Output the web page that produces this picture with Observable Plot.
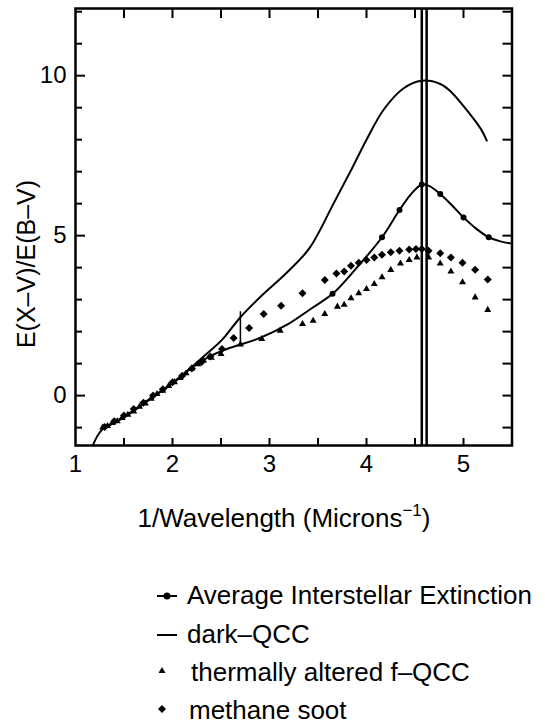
<!DOCTYPE html>
<html><head><meta charset="utf-8">
<script src="https://cdn.jsdelivr.net/npm/d3@7"></script>
<script src="https://cdn.jsdelivr.net/npm/@observablehq/plot@0.6"></script>
<style>
body{margin:0;background:#fff;color:#000;}
#wrap{position:relative;width:545px;height:726px;font-family:"Liberation Sans",Arial,sans-serif;}
#plot{position:absolute;left:0;top:0;width:545px;}
#plot svg{font-family:"Liberation Sans",Arial,sans-serif;}
#lower{position:absolute;left:0;top:480px;}
#ylabel{position:absolute;left:26px;top:264px;transform:translate(-50%,-50%) rotate(-90deg);white-space:nowrap;font-size:25px;line-height:25px;color:#000;}
</style></head><body><div id="wrap"><div id="plot"></div><div id="ylabel"></div><div id="lower"></div></div>
<script>
// ---- data (1/wavelength, E(X-V)/E(B-V)) ----
const avgExtinction = [[1.27,-1.05],[1.5,-0.68],[1.72,-0.22],[1.82,0.0],[2.0,0.38],[2.22,0.92],[2.4,1.25],[2.6,1.5],[2.9,1.8],[3.2,2.25],[3.42,2.7],[3.65,3.18],[3.9,4.0],[4.16,4.95],[4.34,5.8],[4.46,6.3],[4.57,6.6],[4.65,6.55],[4.76,6.3],[4.88,5.95],[5.0,5.57],[5.13,5.22],[5.26,4.95],[5.38,4.82],[5.5,4.75]];
const avgCircles = [[3.65,3.18],[4.16,4.95],[4.34,5.8],[4.57,6.6],[4.76,6.3],[5.0,5.57],[5.26,4.95]];
const darkQCC = [[1.18,-1.55],[1.27,-1.08],[1.5,-0.66],[1.72,-0.2],[2.0,0.4],[2.22,0.95],[2.35,1.3],[2.51,1.74],[2.7,2.45],[2.91,3.1],[3.18,3.85],[3.41,4.6],[3.66,6.0],[3.85,7.1],[4.0,8.0],[4.18,8.95],[4.38,9.6],[4.57,9.84],[4.76,9.74],[4.87,9.5],[5.04,8.9],[5.18,8.33],[5.24,7.97]];
const fQCC = [[1.28,-1.0],[1.33,-0.95],[1.38,-0.85],[1.43,-0.8],[1.48,-0.7],[1.54,-0.6],[1.6,-0.5],[1.66,-0.35],[1.72,-0.25],[1.78,-0.1],[1.84,0.05],[1.9,0.15],[1.96,0.3],[2.02,0.42],[2.08,0.55],[2.14,0.7],[2.2,0.85],[2.26,0.98],[2.32,1.1],[2.4,1.18],[2.5,1.3],[2.7,1.6],[2.92,1.77],[3.11,2.03],[3.34,2.24],[3.45,2.34],[3.57,2.55],[3.7,2.78],[3.77,2.84],[3.84,3.04],[3.92,3.2],[4.0,3.33],[4.08,3.49],[4.16,3.7],[4.25,3.93],[4.35,4.13],[4.44,4.24],[4.52,4.32],[4.64,4.32],[4.76,4.13],[4.87,3.88],[4.99,3.54],[5.12,3.07],[5.25,2.68]];
const methaneSoot = [[1.3,-0.98],[1.4,-0.8],[1.5,-0.62],[1.6,-0.42],[1.7,-0.22],[1.8,0.0],[1.9,0.2],[2.0,0.42],[2.1,0.62],[2.2,0.85],[2.3,1.05],[2.39,1.22],[2.51,1.46],[2.63,1.8],[2.79,2.11],[2.94,2.55],[3.12,2.81],[3.34,3.2],[3.57,3.61],[3.69,3.82],[3.77,3.88],[3.84,4.06],[3.92,4.15],[4.0,4.24],[4.08,4.32],[4.16,4.4],[4.25,4.48],[4.34,4.53],[4.44,4.57],[4.51,4.58],[4.57,4.58],[4.64,4.53],[4.76,4.45],[4.87,4.32],[4.99,4.15],[5.12,3.93],[5.25,3.63]];
const bumpLines = [4.57, 4.62];
const joinBar = [{x: 2.7, y1: 1.65, y2: 2.62}];
const xTickLabels = [1, 2, 3, 4, 5];
const xTicks = [1.5, 2, 2.5, 3, 3.5, 4, 4.5, 5];
const yTickLabels = [0, 5, 10];
const yMinorTicks = [-1, 1, 2, 3, 4, 6, 7, 8, 9, 11, 12];
const yLabel = "E(X\u2013V)/E(B\u2013V)";
const xLabel = "1/Wavelength (Microns";
const xLabelSup = "\u22121";
const legendItems = [
  {label: "Average Interstellar Extinction", kind: "lineDot"},
  {label: "dark\u2013QCC", kind: "line"},
  {label: "thermally altered f\u2013QCC", kind: "triangle"},
  {label: "methane soot", kind: "diamond"}
];

const W = 545, H = 480, mL = 75, mR = 33.5, mT = 8, mB = 35;
const xDom = [1, 5.5], yDom = [-1.56, 12.1];
const kx = (W - mL - mR) / (xDom[1] - xDom[0]);   // px per x unit
const ky = (H - mT - mB) / (yDom[1] - yDom[0]);   // px per y unit
// tick lengths in pixels, converted to data units so the rules run inward from the frame
const tickL = (px) => px / kx, tickV = (px) => px / ky;

const chart = Plot.plot({
  width: W, height: H,
  marginLeft: mL, marginRight: mR, marginTop: mT, marginBottom: mB,
  x: {domain: xDom},
  y: {domain: yDom},
  marks: [
    // data
    Plot.ruleX(bumpLines, {strokeWidth: 2.5, stroke: "black"}),
    Plot.ruleX(joinBar, {x: "x", y1: "y1", y2: "y2", strokeWidth: 1.5, stroke: "black"}),
    Plot.line(avgExtinction, {x: d => d[0], y: d => d[1], curve: "catmull-rom", strokeWidth: 2, stroke: "black"}),
    Plot.line(darkQCC, {x: d => d[0], y: d => d[1], curve: "catmull-rom", strokeWidth: 2, stroke: "black"}),
    Plot.dot(avgCircles, {x: d => d[0], y: d => d[1], r: 3, fill: "black"}),
    Plot.dot(fQCC, {x: d => d[0], y: d => d[1], symbol: "triangle", r: 2.6, fill: "black"}),
    Plot.dot(methaneSoot, {x: d => d[0], y: d => d[1], symbol: "diamond2", r: 3.6, fill: "black"}),
    // inward ticks on all four sides
    Plot.ruleY(yTickLabels, {y: d => d, x1: xDom[0], x2: xDom[0] + tickL(10), strokeWidth: 2, stroke: "black"}),
    Plot.ruleY(yMinorTicks, {y: d => d, x1: xDom[0], x2: xDom[0] + tickL(7), strokeWidth: 2, stroke: "black"}),
    Plot.ruleY(yTickLabels.concat(yMinorTicks), {y: d => d, x1: xDom[1] - tickL(9), x2: xDom[1], strokeWidth: 2, stroke: "black"}),
    Plot.ruleX(xTicks, {x: d => d, y1: yDom[0], y2: yDom[0] + tickV(7), strokeWidth: 2, stroke: "black"}),
    Plot.ruleX(xTicks, {x: d => d, y1: yDom[1] - tickV(10), y2: yDom[1], strokeWidth: 2, stroke: "black"}),
    Plot.frame({strokeWidth: 2.5, stroke: "black"}),
    // tick labels
    Plot.axisY(yTickLabels, {tickSize: 0, tickPadding: 9, label: null, fontSize: 24, fill: "black"}),
    Plot.axisX(xTickLabels, {tickSize: 0, tickPadding: 9, label: null, fontSize: 24, fill: "black"})
  ]
});
document.getElementById("plot").append(chart);
document.getElementById("ylabel").textContent = yLabel;

// ---- lower part: x label + legend ----
const svg = d3.select("#lower").append("svg").attr("width", 545).attr("height", 246)
  .style("font-family", "'Liberation Sans', Arial, sans-serif");
const xl = svg.append("text").attr("x", 284).attr("y", 47).attr("text-anchor", "middle").attr("font-size", 26);
xl.append("tspan").text(xLabel);
xl.append("tspan").attr("font-size", 17).attr("dy", -11).text(xLabelSup);
xl.append("tspan").attr("dy", 11).text(")");

const rowBase = [124, 163, 201, 239];
const textX = [187, 187, 191, 189];
legendItems.forEach((it, i) => {
  const g = svg.append("g");
  const cy = rowBase[i] - 8;
  if (it.kind === "lineDot" || it.kind === "line") {
    g.append("line").attr("x1", 157).attr("x2", 177).attr("y1", cy).attr("y2", cy).attr("stroke", "#000").attr("stroke-width", 2);
    if (it.kind === "lineDot") g.append("circle").attr("cx", 167).attr("cy", cy).attr("r", 3.5).attr("fill", "#000");
  } else {
    const sym = it.kind === "triangle" ? d3.symbolTriangle : d3.symbolDiamond2;
    const size = it.kind === "triangle" ? Math.PI * 2.6 * 2.6 : Math.PI * 3.6 * 3.6;
    g.append("path").attr("d", d3.symbol(sym, size)()).attr("transform", `translate(162,${cy - 2})`).attr("fill", "#000");
  }
  g.append("text").attr("x", textX[i]).attr("y", rowBase[i]).attr("font-size", 26).text(it.label);
});
</script>
</body></html>
